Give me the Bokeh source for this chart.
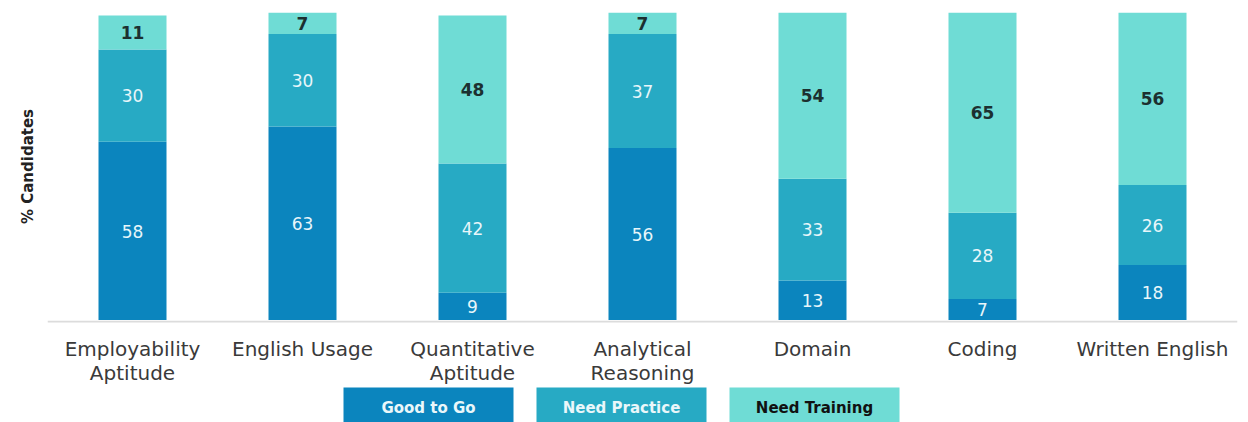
from bokeh.plotting import figure
from bokeh.models import ColumnDataSource, Range1d
from bokeh.layouts import column
from bokeh.embed import file_html
from bokeh.resources import INLINE
from bokeh.core.properties import value

categories = ["Employability Aptitude", "English Usage", "Quantitative Aptitude",
              "Analytical Reasoning", "Domain", "Coding", "Written English"]
label_line1 = ["Employability", "English Usage", "Quantitative", "Analytical",
               "Domain", "Coding", "Written English"]
label_line2 = ["Aptitude", "", "Aptitude", "Reasoning", "", "", ""]
series = ["Good to Go", "Need Practice", "Need Training"]
good_to_go = [58, 63, 9, 56, 13, 7, 18]
need_practice = [30, 30, 42, 37, 33, 28, 26]
need_training = [11, 7, 48, 7, 54, 65, 56]
colors = ["#0b85be", "#27aac4", "#6fdcd5"]
text_colors = ["#e8f6fa", "#e8f6fa", "#1c3030"]
text_styles = ["normal", "normal", "bold"]
legend_text_colors = ["#eaf7fa", "#eaf7fa", "#111111"]

FONT = "DejaVu Sans"
LEFT, RIGHT, TOP = 47, 11, 12
W = 1248
FRAME_W = W - LEFT - RIGHT
SLOT = FRAME_W / len(categories)

data = {"cat": categories, series[0]: good_to_go, series[1]: need_practice, series[2]: need_training}
src = ColumnDataSource(data)

p = figure(x_range=categories, y_range=Range1d(0, 100), width=W, height=320,
           output_backend="svg", toolbar_location=None,
           min_border_left=LEFT, min_border_right=RIGHT, min_border_top=TOP, min_border_bottom=0)
p.vbar_stack(series, x="cat", width=0.4, color=colors, source=src, line_color=None)

# value labels centred in each segment
vals = [good_to_go, need_practice, need_training]
bottoms = [0] * len(categories)
for i, vs in enumerate(vals):
    mids = [b + v / 2 for b, v in zip(bottoms, vs)]
    lsrc = ColumnDataSource({"cat": categories, "y": mids, "t": [str(v) for v in vs]})
    p.text(x="cat", y="y", text="t", source=lsrc, text_align="center", text_baseline="middle",
           text_font=value(FONT), text_font_size="17px", text_color=text_colors[i],
           text_font_style=text_styles[i])
    bottoms = [b + v for b, v in zip(bottoms, vs)]

p.xgrid.visible = False
p.ygrid.visible = False
p.outline_line_color = None
p.xaxis.visible = False

ya = p.yaxis[0]
ya.ticker = []
ya.major_label_text_font_size = "0px"
ya.axis_line_color = None
ya.major_tick_line_color = None
ya.minor_tick_line_color = None
ya.axis_label = "% Candidates"
ya.axis_label_text_font = FONT
ya.axis_label_text_font_size = "15px"
ya.axis_label_text_font_style = "bold"
ya.axis_label_text_color = "#222222"
ya.axis_label_standoff = 11

# lower strip: axis line, category labels and legend (y in pixels from strip top)
H2 = 102
q = figure(width=W, height=H2, x_range=p.x_range, y_range=Range1d(H2, 0),
           output_backend="svg", toolbar_location=None,
           min_border_left=LEFT, min_border_right=RIGHT, min_border_top=0, min_border_bottom=0)
q.axis.visible = False
q.grid.visible = False
q.outline_line_color = None

# axis line
q.segment(x0=[0], y0=[1], x1=[len(categories)], y1=[1], line_color="#dcdcdc", line_width=2)

tsrc = ColumnDataSource({"cat": categories, "l1": label_line1, "l2": label_line2})
for col, yy in (("l1", 28), ("l2", 52)):
    q.text(x="cat", y=yy, text=col, source=tsrc, text_align="center", text_baseline="middle",
           text_font=value(FONT), text_font_size="20px", text_color="#3a3a3a")

# legend boxes
box_w, gap, start = 170, 23, 343
lx_px = [start + box_w / 2 + i * (box_w + gap) for i in range(len(series))]
lx = [(x - LEFT) / SLOT for x in lx_px]
lsrc2 = ColumnDataSource({"x": lx, "c": colors, "t": series, "tc": legend_text_colors})
q.rect(x="x", y=84.5, width=box_w, width_units="screen", height=35, source=lsrc2,
       fill_color="c", line_color=None)
q.text(x="x", y=87, text="t", source=lsrc2, text_color="tc", text_align="center",
       text_baseline="middle", text_font=value(FONT), text_font_size="15px",
       text_font_style="bold")

layout = column(p, q, spacing=0)
open("out.html", "w").write(file_html(layout, INLINE))
